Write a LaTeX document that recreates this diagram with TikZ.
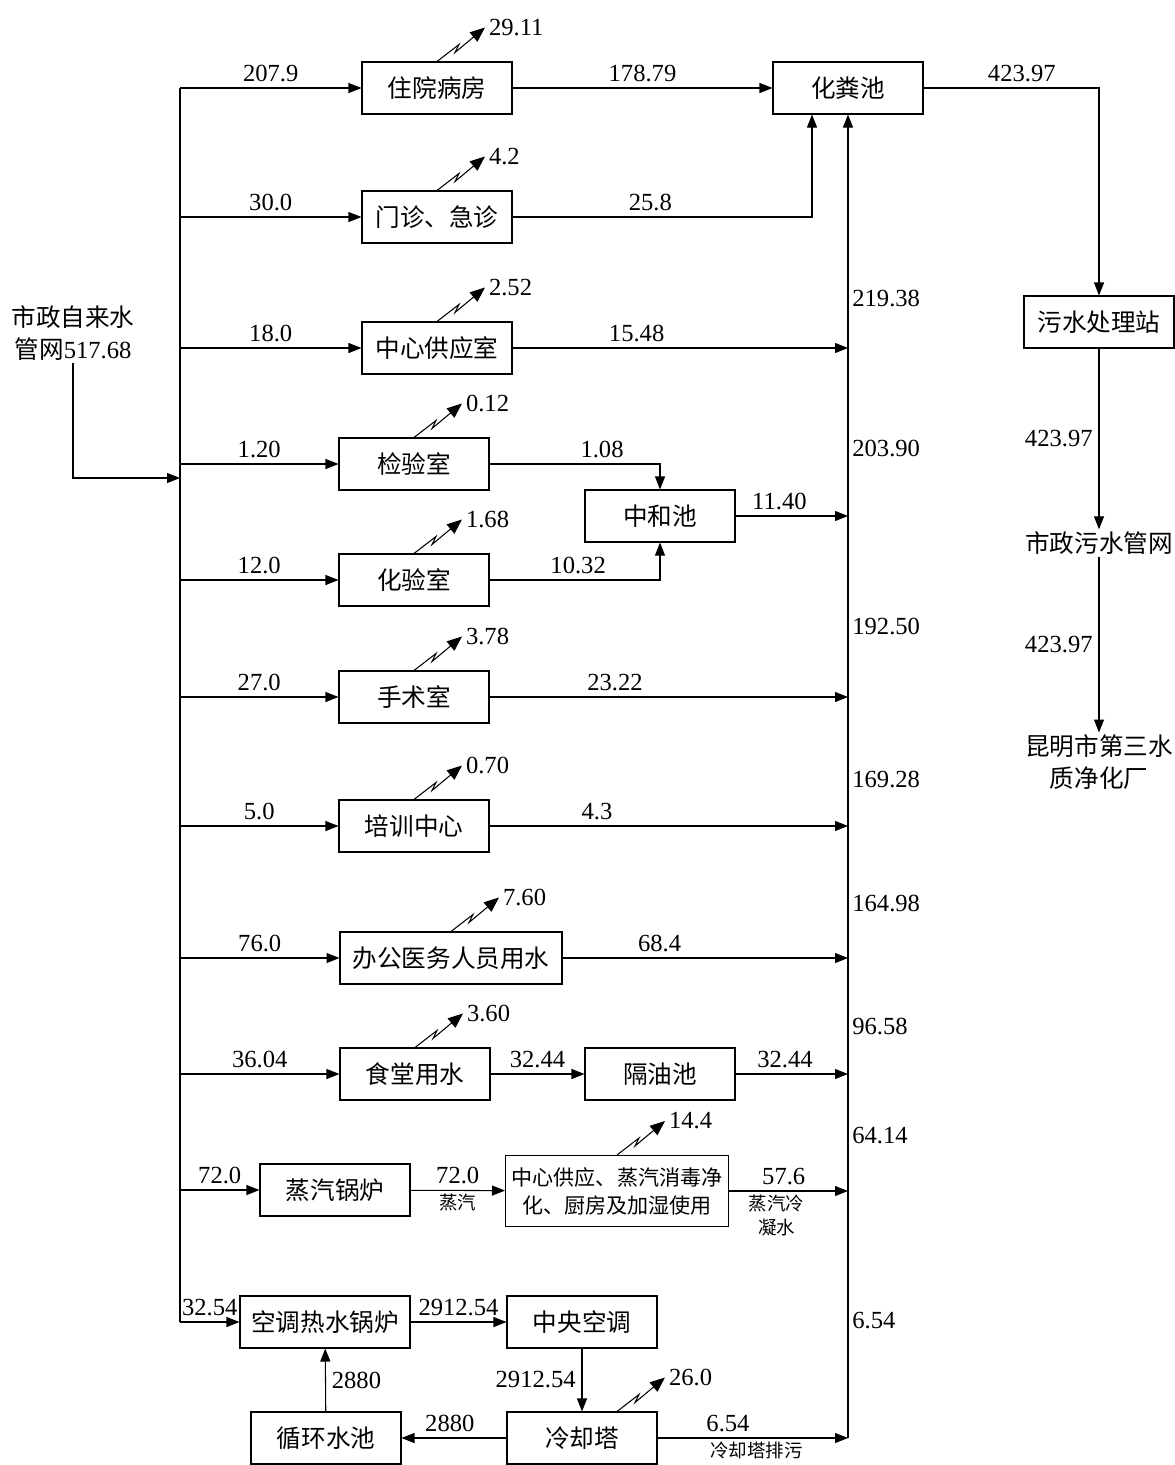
\documentclass[tikz,border=0pt]{standalone}
\usepackage{fontspec}
\setmainfont{Liberation Serif}
\newfontfamily\cjk{Noto Sans CJK SC}
\usetikzlibrary{arrows.meta}

\begin{document}
\begin{tikzpicture}[x=0.02cm,y=-0.02cm,line width=0.6pt,
  >={Triangle[length=2.6mm,width=2mm]},
  every node/.style={font=\fontsize{14pt}{17pt}\selectfont},
  box/.style={draw,minimum width=3cm,minimum height=1.04cm,inner sep=1pt,font=\cjk\fontsize{14pt}{17pt}\selectfont},
  word/.style={align=center,inner sep=1pt,font=\cjk\fontsize{14pt}{18pt}\selectfont},
  note/.style={align=center,inner sep=2pt,font=\cjk\fontsize{10.5pt}{13.5pt}\selectfont}]
\useasboundingbox (0,0) rectangle (1175,1465);

% source and users
\node[word](src) at (73,333) {市政自来水\\管网{\rmfamily 517.68}};
\coordinate (jn) at (180,478);
\node[box](zybf) at (437,88) {住院病房};
\node[box](mzjz) at (437,217) {门诊、急诊};
\node[box](zxgy) at (437,348) {中心供应室};
\node[box](jys) at (414,464) {检验室};
\node[box](zhc) at (660,516) {中和池};
\node[box](hys) at (414,580) {化验室};
\node[box](sss) at (414,697) {手术室};
\node[box](pxzx) at (414,826) {培训中心};
\node[box,minimum width=4.44cm](bgys) at (451,958) {办公医务人员用水};
\node[box](stys) at (415,1074) {食堂用水};
\node[box](gyc) at (660,1074) {隔油池};
\node[box](zqgl) at (335,1190) {蒸汽锅炉};
\node[box,minimum width=4.46cm,minimum height=1.42cm,align=center,font=\cjk\fontsize{12pt}{16pt}\selectfont](zqsy) at (617,1191) {中心供应、蒸汽消毒净\\化、厨房及加湿使用};
\node[box,minimum width=3.4cm](ktgl) at (325,1322) {空调热水锅炉};
\node[box](zykt) at (582,1322) {中央空调};
\node[box](lqt) at (582,1438) {冷却塔};
\node[box](xhsc) at (326,1438) {循环水池};

% sewage side
\node[box](hfc) at (848,88) {化粪池};
\coordinate (col) at (848,1438);
\node[box](wscl) at (1099,322) {污水处理站};
\node[word](szgw) at (1099,543) {市政污水管网};
\node[word](kmsc) at (1099,762) {昆明市第三水\\质净化厂};

% supply bus
\draw[->] (src.south) |- (jn);
\draw (zybf.west -| jn) -- (ktgl.west -| jn);
\foreach \b/\v in {zybf/207.9,mzjz/30.0,zxgy/18.0,jys/1.20,hys/12.0,sss/27.0,pxzx/5.0,bgys/76.0,stys/36.04,zqgl/72.0,ktgl/32.54}
  \draw[->] (\b.west -| jn) -- node[above](in\b){\v} (\b.west);

% losses
\foreach \b/\dx/\v [count=\i] in {zybf/0cm/29.11,mzjz/0cm/4.2,zxgy/0cm/2.52,jys/0cm/0.12,hys/0cm/1.68,sss/0cm/3.78,pxzx/0cm/0.70,bgys/0cm/7.60,stys/0cm/3.60,zqsy/0cm/14.4,lqt/0.7cm/26.0}
  \draw[-{Triangle[length=3mm,width=2.4mm]}] ([xshift=\dx]\b.north) -- ++(22,-17) -- ++(-4,8) -- ++(30,-25) node[anchor=west,inner sep=2pt](ev\i){\v};

% drains
\draw[->] (zybf) -- node[above](d1){178.79} (hfc);
\draw[->] (mzjz.east) -| node[pos=0.23,above](d2){25.8} ([xshift=-0.72cm]hfc.south);
\draw[->] (jys.east) -| node[pos=0.33,above](d3){1.08} (zhc.north);
\draw[->] (hys.east) -| node[pos=0.26,above](d4){10.32} (zhc.south);
\draw[->] (stys) -- node[above](d5){32.44} (gyc);
\draw[->] (zqgl) -- node[above](d6){72.0} node[below,note](d7){蒸汽} (zqsy);
\foreach \b/\v/\p in {zxgy/15.48/0.37,zhc/11.40/0.39,sss/23.22/0.35,pxzx/4.3/0.30,bgys/68.4/0.34,gyc/32.44/0.44,zqsy/57.6/0.46}
  \draw[->] (\b.east) -- node[pos=\p,above](out\b){\v} (\b.east -| col);
\node[note,below](d8) at ([xshift=0.95cm]zqsy.east) {蒸汽冷\\凝水};

% air conditioning loop
\draw[->] (ktgl) -- node[above](k1){2912.54} (zykt);
\draw[->] (zykt) -- node[left](k2){2912.54} (lqt);
\draw[->] (lqt) -- node[pos=0.54,above](k3){2880} (xhsc);
\draw[->] (xhsc) -- node[right](k4){2880} (ktgl);
\draw[->] (lqt.east) -- node[pos=0.37,above](k5){6.54} node[pos=0.52,below,note](k6){冷却塔排污} (lqt.east -| col);

% collector
\draw[->] (col) -- (col |- hfc.south);
\foreach \y/\v [count=\i] in {298/219.38,448/203.90,626/192.50,779/169.28,903/164.98,1026/96.58,1136/64.14,1321/6.54}
  \node[anchor=west](c\i) at (846,\y) {\v};

% to treatment
\draw[->] (hfc.east) -| node[pos=0.28,above](t1){423.97} (wscl.north);
\draw[->] (wscl.south) -- node[left](t2){423.97} (szgw.north);
\draw[->] (szgw.south) -- node[left](t3){423.97} (kmsc.north);
\end{tikzpicture}
\end{document}
